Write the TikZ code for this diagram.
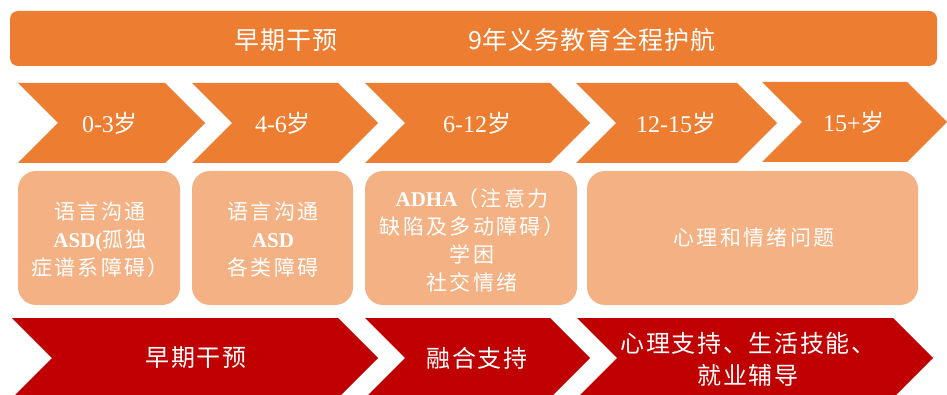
\documentclass[tikz,border=0pt]{standalone}
\usepackage{fontspec}
\setmainfont{Liberation Serif}
\newfontfamily\cjk{Noto Sans CJK SC}
\newfontfamily\cjkbar[LetterSpace=4]{Noto Sans CJK SC}
\newfontfamily\cjks[LetterSpace=11]{Noto Sans CJK SC}
\newfontfamily\cjkr[LetterSpace=7]{Noto Sans CJK SC}
\definecolor{orng}{HTML}{ED7D31}
\definecolor{lorng}{HTML}{F4B183}
\definecolor{dred}{HTML}{C00000}
\tikzset{
  lbl/.style={text=white, align=center, inner sep=0pt},
  bartxt/.style={lbl, font=\cjkbar\fontsize{25}{28}\selectfont},
  chevtxt/.style={lbl, font=\fontsize{24}{28}\selectfont},
  boxtxt/.style={lbl, font=\fontsize{21}{28}\selectfont},
  redtxt/.style={lbl, font=\cjkr\fontsize{24}{32}\selectfont},
  boxshape/.style={fill=lorng, rounded corners=18pt},
}
% #1 colour, #2 left x, #3 right x (start of tip), #4 top y, #5 bottom y
\newcommand\chevronshape[5]{%
  \fill[#1] (#2,#4) -- (#3,#4) -- ({#3+40},{(#4+#5)/2}) -- (#3,#5) -- (#2,#5)
    -- ({#2+40},{(#4+#5)/2}) -- cycle;}
\begin{document}
\begin{tikzpicture}[x=1pt,y=-1pt]
  \useasboundingbox (0,0) rectangle (947,395);
  \clip (0,0) rectangle (947,395);
  \fill[white] (0,0) rectangle (947,395);

  % top bar
  \fill[orng, rounded corners=8pt] (10,11) rectangle (937,66);
  \node[bartxt] (t1) at (286,40) {早期干预};
  \node[bartxt] (t2) at (592,40) {9年义务教育全程护航};

  % age chevrons
  \chevronshape{orng}{18}{165}{83}{163}
  \chevronshape{orng}{192}{338}{83}{163}
  \chevronshape{orng}{365}{550}{83}{163}
  \chevronshape{orng}{576}{737}{83}{163}
  \chevronshape{orng}{762}{907}{82}{162}
  \node[chevtxt] (a1) at (110,123) {0-3{\cjk 岁}};
  \node[chevtxt] (a2) at (283,123) {4-6{\cjk 岁}};
  \node[chevtxt] (a3) at (477,123) {6-12{\cjk 岁}};
  \node[chevtxt] (a4) at (676,123) {12-15{\cjk 岁}};
  \node[chevtxt] (a5) at (854,122) {15+{\cjk 岁}};

  % light boxes
  \fill[boxshape] (18,171) rectangle (180,305);
  \fill[boxshape] (192,171) rectangle (353,305);
  \fill[boxshape] (365,171) rectangle (577,305);
  \fill[boxshape] (587,171) rectangle (918,305);
  \node[boxtxt] (b1) at (100,240) {{\cjks 语言沟通}\\\textbf{ASD(}{\cjks 孤独}\\{\cjks 症谱系障碍）}};
  \node[boxtxt] (b2) at (273,240) {{\cjks 语言沟通}\\\textbf{ASD}\\{\cjks 各类障碍}};
  \node[boxtxt] (b3) at (472,240) {\textbf{ADHA}{\cjks （注意力}\\{\cjks 缺陷及多动障碍）}\\{\cjks 学困}\\{\cjks 社交情绪}};
  \node[boxtxt] (b4) at (754,238) {{\cjks 心理和情绪问题}};

  % red chevrons
  \chevronshape{dred}{12}{338}{318}{398}
  \chevronshape{dred}{365}{550}{318}{398}
  \chevronshape{dred}{577}{893}{318}{398}
  \node[redtxt] (r1) at (196,358) {早期干预};
  \node[redtxt] (r2) at (477,358) {融合支持};
  \node[redtxt] (r3) at (748,359) {心理支持、生活技能、\\就业辅导};
\end{tikzpicture}
\end{document}
